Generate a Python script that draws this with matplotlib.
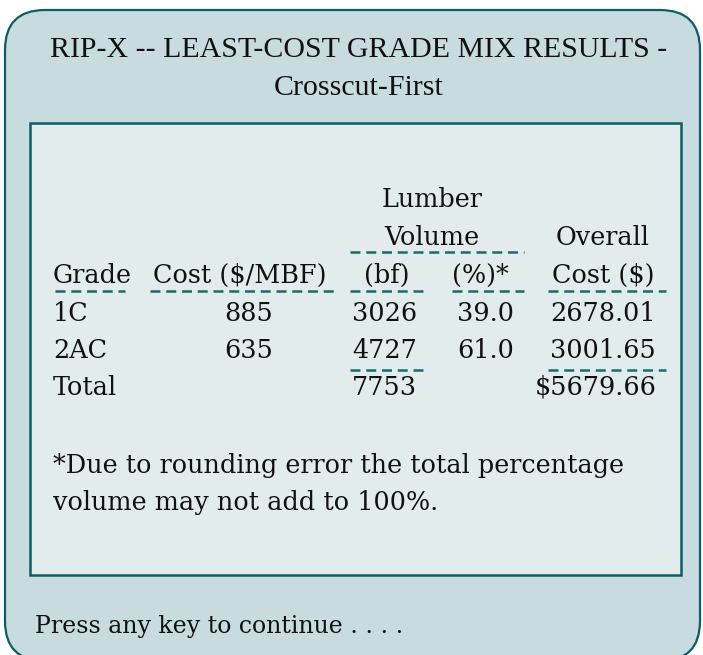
import matplotlib
matplotlib.use("Agg")
import matplotlib.pyplot as plt
from matplotlib.patches import FancyBboxPatch, Rectangle

# ---- data ----
title_lines = ["RIP-X -- LEAST-COST GRADE MIX RESULTS -", "Crosscut-First"]
grades = ["1C", "2AC"]
cost_per_mbf = [885, 635]
volume_bf = [3026, 4727]
volume_pct = [39.0, 61.0]
overall_cost = [2678.01, 3001.65]
total_label = "Total"
footnote = ["*Due to rounding error the total percentage",
            "volume may not add to 100%."]
prompt = "Press any key to continue . . . ."

total_bf = sum(volume_bf)
total_cost = round(sum(overall_cost), 2)

# ---- styles ----
W, H = 703, 655
EDGE = "#0e5d61"
OUTER_FILL = "#c8dcdf"
INNER_FILL = "#e2ecec"
DASH = "#1d6a6e"
TXT = "#111111"
TFONT = "DejaVu Serif"
HFONT = "Liberation Serif"
FS = 18.4

fig = plt.figure(figsize=(W / 100, H / 100), dpi=100)
ax = fig.add_axes([0, 0, 1, 1])
ax.set_xlim(0, W)
ax.set_ylim(H, 0)
ax.axis("off")

# outer rounded panel (bottom runs just past the image edge)
ax.add_patch(FancyBboxPatch((5, 10), 695, 651,
                            boxstyle="round,pad=0,rounding_size=40",
                            facecolor=OUTER_FILL, edgecolor=EDGE, linewidth=1.6))
# inner panel
ax.add_patch(Rectangle((30, 123), 651, 452, facecolor=INNER_FILL,
                       edgecolor=EDGE, linewidth=1.8))

# title
for i, line in enumerate(title_lines):
    ax.text(359, 57 + 38 * i, line, ha="center", va="baseline",
            fontsize=21.5, family=HFONT, color=TXT)

def t(x, y, s, ha="left"):
    ax.text(x, y, s, ha=ha, va="baseline", fontsize=FS, family=TFONT, color=TXT)

def dash(x0, x1, y):
    ax.plot([x0, x1], [y, y], color=DASH, lw=1.8, linestyle=(0, (4, 2.3)),
            solid_capstyle="butt", dash_capstyle="butt")

# headers
t(432, 207, "Lumber", "center")
t(432, 245, "Volume", "center")
t(603, 245, "Overall", "center")
t(53, 283, "Grade")
t(240, 283, "Cost ($/MBF)", "center")
t(387, 283, "(bf)", "center")
t(480, 283, "(%)*", "center")
t(603, 283, "Cost ($)", "center")

dash(350, 524, 252)
for x0, x1 in [(55, 125), (150, 334), (350, 426), (452, 524), (548, 666)]:
    dash(x0, x1, 291)

# rows
row_y = [321, 358]
for y, g, c, vb, vp, oc in zip(row_y, grades, cost_per_mbf, volume_bf,
                               volume_pct, overall_cost):
    t(53, y, g)
    t(273, y, f"{c}", "right")
    t(417, y, f"{vb}", "right")
    t(514, y, f"{vp:.1f}", "right")
    t(656, y, f"{oc:.2f}", "right")

dash(350, 426, 370)
dash(548, 666, 370)
t(53, 395, total_label)
t(417, 395, f"{total_bf}", "right")
t(657, 395, f"${total_cost:.2f}", "right")

# footnote
t(53, 473, footnote[0])
t(53, 510, footnote[1])

# prompt
ax.text(35, 633, prompt, ha="left", va="baseline", fontsize=17,
        family=TFONT, color=TXT)

fig.savefig("out.png", dpi=100, facecolor="white")
